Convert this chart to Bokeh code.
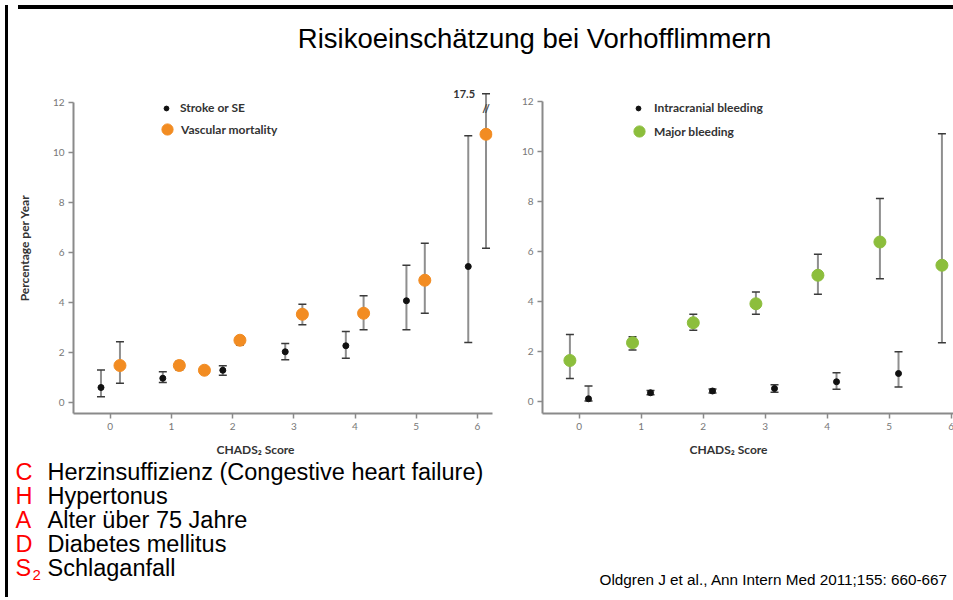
from bokeh.plotting import figure
from bokeh.models import (Range1d, ColumnDataSource, Whisker, TeeHead, Legend,
                          LegendItem, Label, Div)
from bokeh.layouts import row, column
from bokeh.embed import file_html
from bokeh.resources import INLINE
from bokeh.core.properties import value
import numpy as np

# ---------------- data ----------------
TITLE = "Risikoeinschätzung bei Vorhofflimmern"
X_LABEL = "CHADS₂ Score"
Y_LABEL = "Percentage per Year"

x_ticks = [0, 1, 2, 3, 4, 5, 6]
y_ticks = [0, 2, 4, 6, 8, 10, 12]

# left panel: stroke / systemic embolism and vascular mortality
stroke_label = "Stroke or SE"
stroke_x = [-0.15, 0.86, 1.84, 2.86, 3.85, 4.84, 5.85]
stroke_rate = [0.60, 0.97, 1.29, 2.03, 2.27, 4.07, 5.44]
stroke_lo = [0.23, 0.80, 1.09, 1.71, 1.77, 2.91, 2.40]
stroke_hi = [1.30, 1.23, 1.47, 2.36, 2.84, 5.49, 10.67]

vasc_label = "Vascular mortality"
vasc_x = [0.16, 1.13, 1.54, 2.12, 3.14, 4.14, 5.14, 6.14]
vasc_rate = [1.48, 1.48, 1.29, 2.49, 3.53, 3.57, 4.89, 10.73]
vasc_lo = [0.77, 1.30, 1.15, 2.30, 3.11, 2.91, 3.57, 6.17]
vasc_hi = [2.43, 1.65, 1.40, 2.65, 3.93, 4.27, 6.37, 17.5]

# right panel: intracranial and major bleeding
ich_label = "Intracranial bleeding"
ich_x = [0.15, 1.15, 2.15, 3.15, 4.15, 5.15]
ich_rate = [0.09, 0.33, 0.40, 0.50, 0.77, 1.10]
ich_lo = [0.00, 0.25, 0.32, 0.35, 0.47, 0.56]
ich_hi = [0.60, 0.42, 0.48, 0.65, 1.13, 1.97]

major_label = "Major bleeding"
major_x = [-0.15, 0.86, 1.84, 2.85, 3.85, 4.85, 5.85]
major_rate = [1.62, 2.33, 3.13, 3.89, 5.03, 6.36, 5.43]
major_lo = [0.90, 2.04, 2.83, 3.47, 4.27, 4.89, 2.33]
major_hi = [2.66, 2.57, 3.47, 4.36, 5.87, 8.10, 10.69]

chads_letters = ["C", "H", "A", "D", "S"]
chads_terms = ["Herzinsuffizienz (Congestive heart failure)", "Hypertonus",
               "Alter über 75 Jahre", "Diabetes mellitus", "Schlaganfall"]
chads_sub = "2"
citation = "Oldgren J et al., Ann Intern Med 2011;155: 660-667"

# ---------------- styles ----------------
AXIS_TOP = 12
BREAK_TOP = 12.35
AXIS_COLOR = "#8a8a8a"
BAR_COLOR = "#8f8f8f"
CAP_COLOR = "#3a3a3a"
BLACK = "#111111"
ORANGE = "#F28C22"
GREEN = "#8CBE3C"
CFONT = "Lato"
SFONT = "Liberation Sans"
LBL_SIZE = "12px"

FULL_W = 942
CHART_H = 360


def chart(width, xr, yr, bl, br, ylabel=None):
    p = figure(width=width, height=CHART_H, x_range=Range1d(*xr), y_range=Range1d(*yr),
               output_backend="svg", toolbar_location=None,
               min_border_left=bl, min_border_right=br, min_border_top=2,
               min_border_bottom=27)
    p.outline_line_color = None
    p.xgrid.visible = False
    p.ygrid.visible = False
    p.xaxis.ticker = x_ticks
    p.yaxis.ticker = y_ticks
    p.yaxis.bounds = (yr[0], AXIS_TOP)
    for ax in (p.xaxis[0], p.yaxis[0]):
        ax.axis_line_color = AXIS_COLOR
        ax.axis_line_width = 2
        ax.major_tick_line_color = AXIS_COLOR
        ax.major_tick_line_width = 1.5
        ax.major_tick_in = 0
        ax.major_tick_out = 5
        ax.minor_tick_line_color = None
        ax.major_label_text_font = CFONT
        ax.major_label_text_font_size = "10px"
        ax.major_label_text_color = "#777777"
        ax.major_label_standoff = 4
    if ylabel:
        p.yaxis.axis_label = ylabel
        p.yaxis.axis_label_text_font = CFONT
        p.yaxis.axis_label_text_font_size = LBL_SIZE
        p.yaxis.axis_label_text_font_style = "bold"
        p.yaxis.axis_label_text_color = "#333333"
        p.yaxis.axis_label_standoff = 18
    return p


def series(p, xs, ys, lo, hi, color, size):
    src = ColumnDataSource(dict(x=xs, y=ys, lo=lo, hi=np.minimum(hi, BREAK_TOP)))
    w = Whisker(base="x", lower="lo", upper="hi", source=src, level="underlay",
                line_color=BAR_COLOR, line_width=2,
                upper_head=TeeHead(size=8, line_color=CAP_COLOR, line_width=1.5),
                lower_head=TeeHead(size=8, line_color=CAP_COLOR, line_width=1.5))
    p.add_layout(w)
    return p.scatter("x", "y", source=src, size=size, color=color)


def legend(p, label, r, loc, glyph, standoff):
    lg = Legend(items=[LegendItem(label=label, renderers=[r])], location=loc,
                glyph_width=glyph, glyph_height=glyph, label_standoff=standoff,
                label_height=12, padding=0, margin=0, spacing=0,
                background_fill_alpha=0, border_line_alpha=0,
                label_text_font=CFONT, label_text_font_size=LBL_SIZE,
                label_text_font_style="bold", label_text_color="#333333")
    p.add_layout(lg)


def breaks(p, xs, hi):
    idx = [i for i, h in enumerate(hi) if h > BREAK_TOP]
    src = ColumnDataSource(dict(x=[xs[i] for i in idx], y=[BREAK_TOP] * len(idx),
                                yb=[BREAK_TOP - 0.6] * len(idx),
                                t=[f"{hi[i]:g}" for i in idx], s=["//"] * len(idx)))
    p.text("x", "y", text="t", source=src, x_offset=-11, text_align="right",
           text_baseline="middle", text_font=value(CFONT), text_font_size="11px",
           text_font_style="bold", text_color="#333333")
    p.text("x", "yb", text="s", source=src, text_align="center", text_baseline="middle",
           text_font=value(CFONT), text_font_size="11px", text_font_style="bold",
           text_color="#444444")


# ---------------- left chart ----------------
left = chart(494, (-0.599, 6.246), (-0.44, 12.8), 56, 15, Y_LABEL)
r_stroke = series(left, stroke_x, stroke_rate, stroke_lo, stroke_hi, BLACK, 6)
r_vasc = series(left, vasc_x, vasc_rate, vasc_lo, vasc_hi, ORANGE, 12)
breaks(left, vasc_x, vasc_hi)
legend(left, stroke_label, r_stroke, (87, 298), 12, 8)
legend(left, vasc_label, r_vasc, (80, 270), 28, 0)

# ---------------- right chart ----------------
right = chart(448, (-0.592, 6.069), (-0.5, 12.74), 35, 0)
r_ich = series(right, ich_x, ich_rate, ich_lo, ich_hi, BLACK, 6)
r_major = series(right, major_x, major_rate, major_lo, major_hi, GREEN, 12)
legend(right, ich_label, r_ich, (90, 298), 12, 10)
legend(right, major_label, r_major, (83, 268), 28, 1)


# ---------------- text panels (pixel coordinates) ----------------
def pixel_fig(w, h):
    p = figure(width=w, height=h, x_range=Range1d(0, w), y_range=Range1d(h, 0),
               output_backend="svg", toolbar_location=None, min_border=0,
               x_axis_type=None, y_axis_type=None)
    p.outline_line_color = None
    return p


top = pixel_fig(FULL_W, 66)
top.add_layout(Label(x=521, y=24, text=TITLE, text_align="center", text_baseline="middle",
                     text_font=SFONT, text_font_size="27.5px", text_color="#000000"))

bottom = pixel_fig(FULL_W, 162)
for cx in (242, 715):
    bottom.add_layout(Label(x=cx, y=9, text=X_LABEL, text_align="center",
                            text_baseline="middle", text_font=CFONT,
                            text_font_size=LBL_SIZE, text_font_style="bold",
                            text_color="#333333"))
LINE0, LINE_H = 31, 24
rows = ColumnDataSource(dict(
    letter=chads_letters, term=chads_terms,
    y=[LINE0 + i * LINE_H for i in range(len(chads_letters))]))
bottom.text(x=2, y="y", text="letter", source=rows, text_baseline="middle",
            text_font=value(SFONT), text_font_size="23.5px", text_color="#FF0000")
bottom.text(x=34, y="y", text="term", source=rows, text_baseline="middle",
            text_font=value(SFONT), text_font_size="23.5px", text_color="#000000")
bottom.add_layout(Label(x=19, y=LINE0 + 4 * LINE_H + 7, text=chads_sub,
                        text_baseline="middle", text_font=SFONT,
                        text_font_size="15px", text_color="#FF0000"))
bottom.add_layout(Label(x=586, y=139, text=citation, text_baseline="middle",
                        text_font=SFONT, text_font_size="15.3px", text_color="#000000"))

border_left = Div(width=3, height=592, styles={"background-color": "black"})
border_top = Div(width=FULL_W, height=4, styles={"background-color": "black"})

layout = row(border_left, column(border_top, top, row(left, right), bottom))

open("out.html", "w").write(file_html(layout, INLINE))
